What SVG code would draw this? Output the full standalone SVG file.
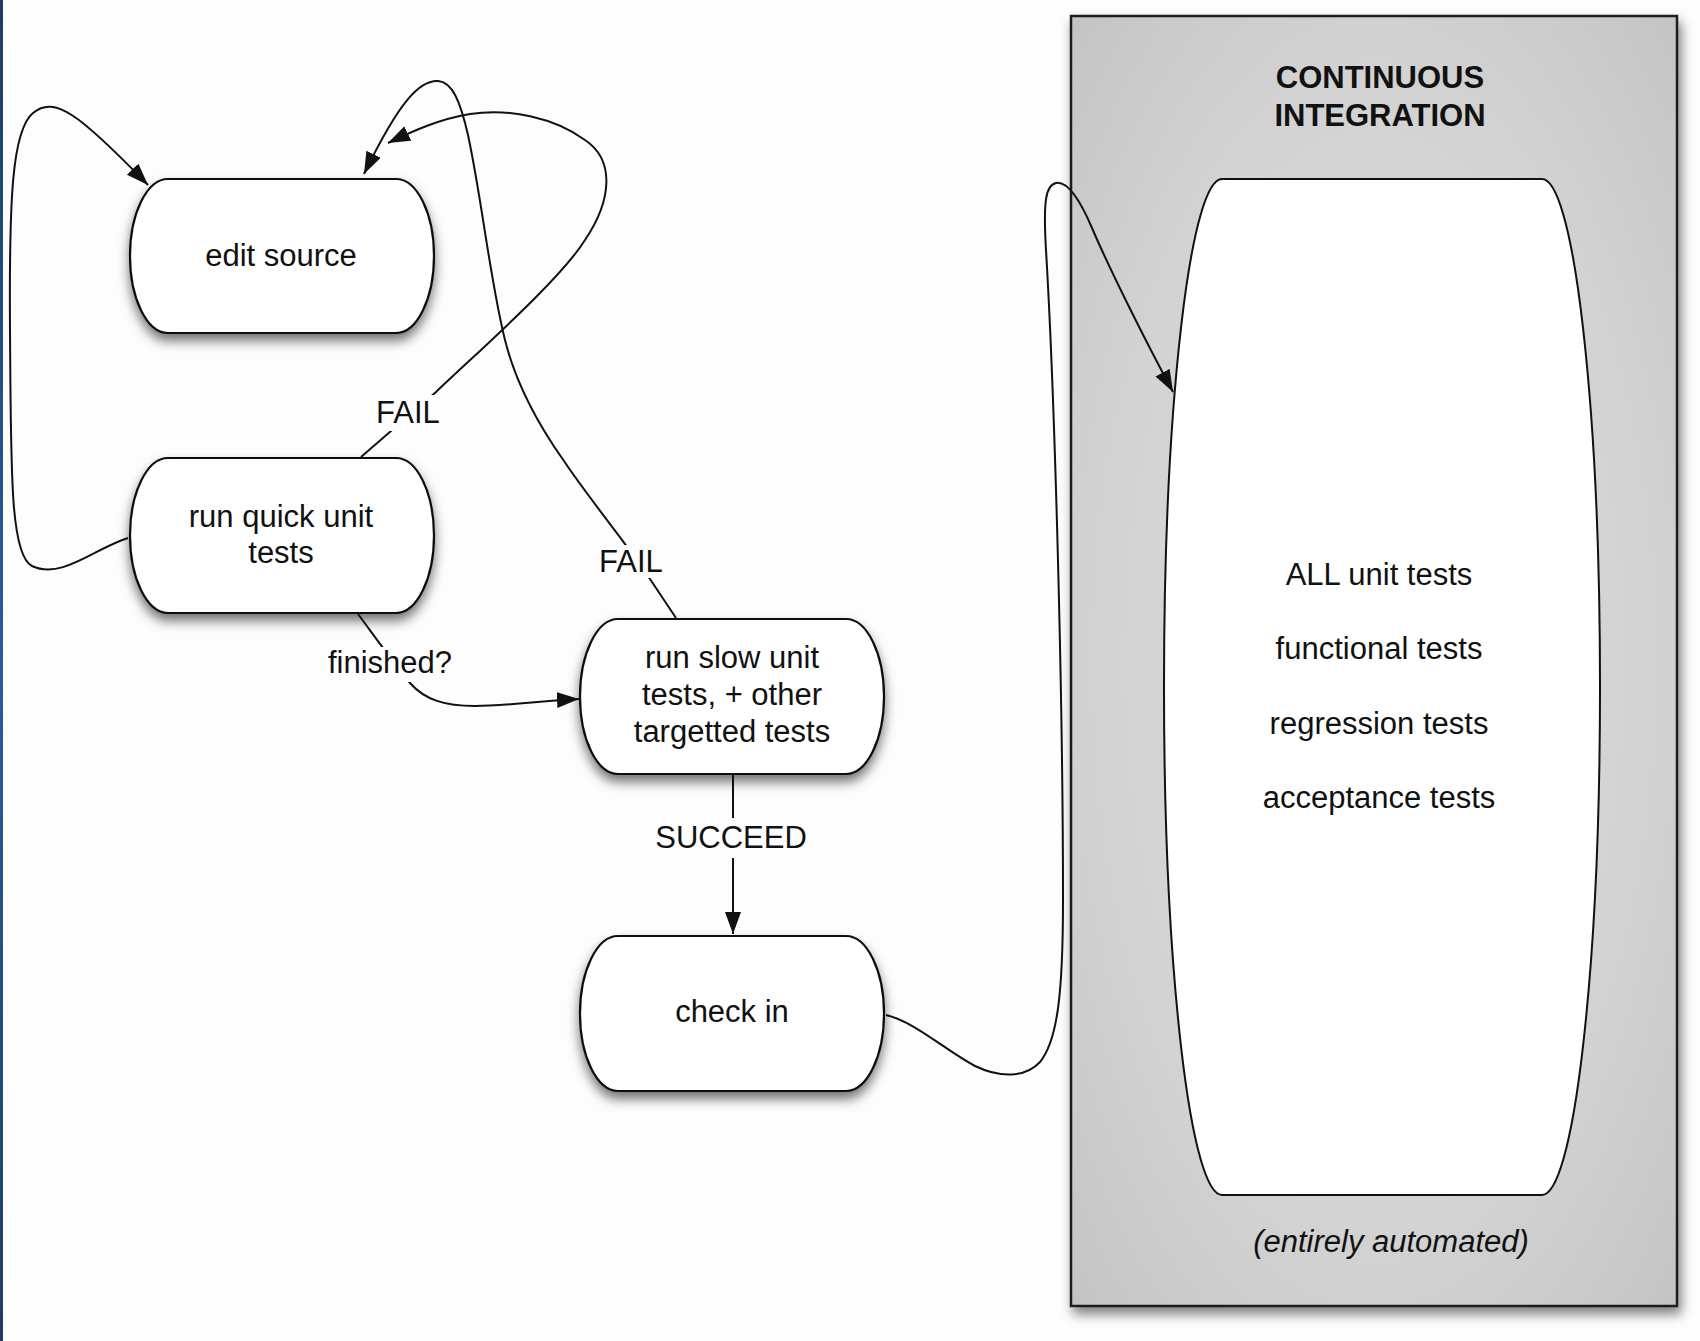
<svg xmlns="http://www.w3.org/2000/svg" width="1700" height="1341" viewBox="0 0 1700 1341">
<style>
.node{fill:#fff;stroke:#111;stroke-width:2.2}
.t{font-family:"Liberation Sans",Arial,sans-serif;font-size:31px;fill:#111;text-anchor:middle}
.h{font-weight:bold}
.i{font-style:italic}
.e{fill:none;stroke:#111;stroke-width:2}
.lbg{fill:#fdfdfd}
</style>
<defs>
<filter id="sh" x="-20%" y="-20%" width="140%" height="150%">
<feDropShadow dx="0" dy="7" stdDeviation="6" flood-color="#000" flood-opacity="0.55"/>
</filter>
<filter id="sh2" x="-5%" y="-5%" width="110%" height="110%">
<feDropShadow dx="3" dy="7" stdDeviation="6" flood-color="#000" flood-opacity="0.5"/>
</filter>
<radialGradient id="ci" cx="0.5" cy="0.5" r="0.8">
<stop offset="0" stop-color="#dadada"/>
<stop offset="0.55" stop-color="#d3d3d3"/>
<stop offset="0.85" stop-color="#c6c6c6"/>
<stop offset="1" stop-color="#b6b6b6"/>
</radialGradient>
<linearGradient id="blue" x1="0" y1="0" x2="0" y2="1">
<stop offset="0" stop-color="#1d3e63"/>
<stop offset="0.5" stop-color="#2a5c9c"/>
<stop offset="1" stop-color="#1d3e63"/>
</linearGradient>
<marker id="arr" markerUnits="userSpaceOnUse" markerWidth="26" markerHeight="20" refX="22" refY="8" orient="auto">
<path d="M0,0 L22,8 L0,16 Z" fill="#111"/>
</marker>
</defs>
<rect x="0" y="0" width="1700" height="1341" fill="#fdfdfd"/>
<rect x="0" y="0" width="3" height="1341" fill="url(#blue)"/>

<g id="ci-box">
<rect x="1071" y="16" width="606" height="1290" fill="url(#ci)" stroke="#1a1a1a" stroke-width="2.5" filter="url(#sh2)"/>
<text class="t h" x="1380" y="88">CONTINUOUS</text>
<text class="t h" x="1380" y="126">INTEGRATION</text>
<rect x="1164" y="179" width="436" height="1016" rx="58" ry="508" fill="#fff" stroke="#111" stroke-width="2"/>
<text class="t" x="1379" y="585">ALL unit tests</text>
<text class="t" x="1379" y="659">functional tests</text>
<text class="t" x="1379" y="734">regression tests</text>
<text class="t" x="1379" y="808">acceptance tests</text>
<text class="t i" x="1391" y="1252">(entirely automated)</text>
</g>

<g id="edit-source">
<rect class="node" x="130" y="179" width="304" height="154" rx="38" ry="77" filter="url(#sh)"/>
<text class="t" x="281" y="266">edit source</text>
</g>
<g id="quick-tests">
<rect class="node" x="130" y="458" width="304" height="155" rx="38" ry="77.5" filter="url(#sh)"/>
<text class="t" x="281" y="527">run quick unit</text>
<text class="t" x="281" y="563">tests</text>
</g>
<g id="slow-tests">
<rect class="node" x="580" y="619" width="304" height="155" rx="38" ry="77.5" filter="url(#sh)"/>
<text class="t" x="732" y="668">run slow unit</text>
<text class="t" x="732" y="705">tests, + other</text>
<text class="t" x="732" y="742">targetted tests</text>
</g>
<g id="check-in">
<rect class="node" x="580" y="936" width="304" height="155" rx="38" ry="77.5" filter="url(#sh)"/>
<text class="t" x="732" y="1022">check in</text>
</g>

<g id="connectors">
<path class="e" marker-end="url(#arr)" d="M128,538 C95,548 62,580 32,566 C10,555 11,470 10,330 C9,200 12,130 33,113 C55,95 80,115 148,185"/>
<path class="e" marker-end="url(#arr)" d="M361,457 L436,392 C480,350 560,280 585,240 C612,200 615,160 585,140 C555,118 510,108 470,114 C440,119 415,130 388,143"/>
<path class="e" marker-end="url(#arr)" d="M676,618 L650,579 C630,548 590,500 564,461 C535,420 515,380 505,340 C490,280 482,200 468,135 C460,100 452,82 438,81 C420,80 400,100 364,174"/>
<path class="e" marker-end="url(#arr)" d="M358,614 C370,630 395,665 410,683 C425,700 445,706 475,706 C505,706 540,701 579,699"/>
<path class="e" marker-end="url(#arr)" d="M733,775 L733,934"/>
<path class="e" marker-end="url(#arr)" d="M886,1015 C915,1022 945,1050 975,1066 C1000,1078 1025,1078 1040,1062 C1058,1040 1063,990 1063,900 C1063,700 1055,400 1046,250 C1043,200 1046,185 1056,183 C1068,181 1080,200 1092,228 C1110,270 1145,340 1173,392"/>
<rect class="lbg" x="372" y="395" width="72" height="36"/>
<text class="t" x="408" y="423">FAIL</text>
<rect class="lbg" x="596" y="545" width="70" height="33"/>
<text class="t" x="631" y="572">FAIL</text>
<rect class="lbg" x="325" y="647" width="132" height="35"/>
<text class="t" x="390" y="673">finished?</text>
<rect class="lbg" x="648" y="818" width="166" height="40"/>
<text class="t" x="731" y="848">SUCCEED</text>
</g>
</svg>
